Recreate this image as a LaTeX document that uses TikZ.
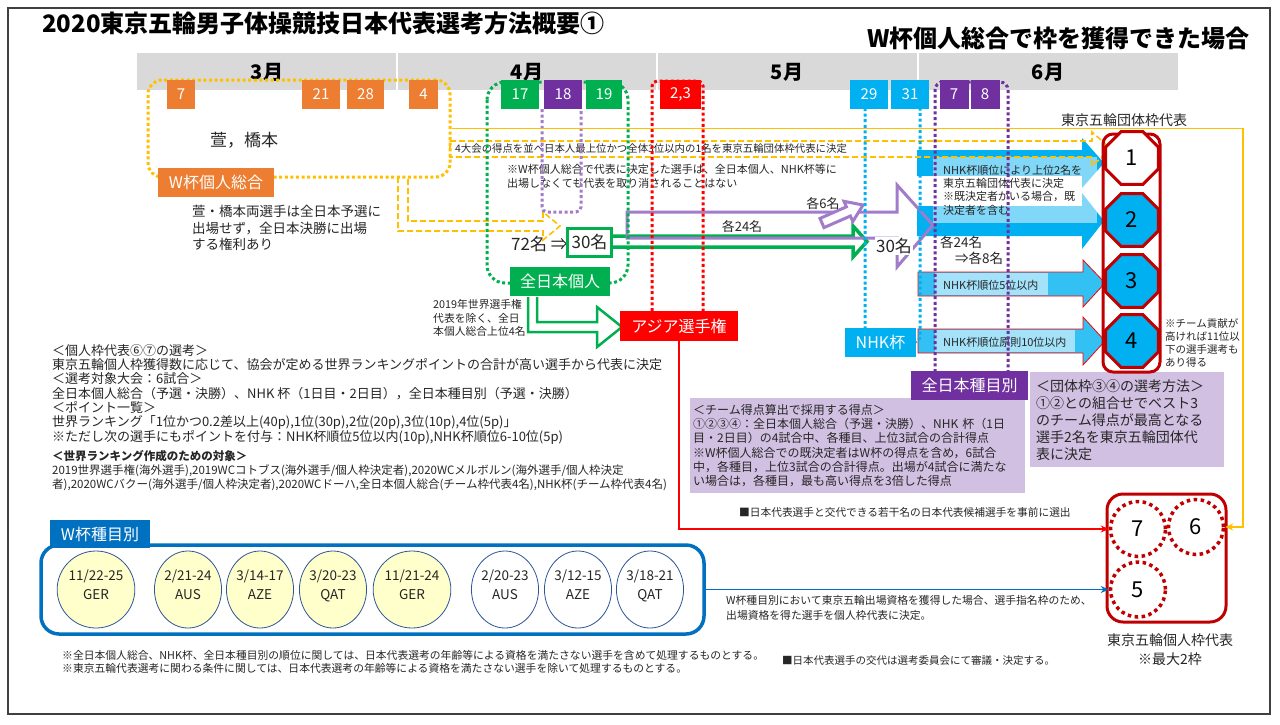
\documentclass[tikz,border=0pt]{standalone}
\usepackage{fontspec}
\setmainfont{Noto Sans CJK JP}
\usetikzlibrary{shapes.geometric,arrows.meta}
\definecolor{orangeC}{HTML}{ED7D31}
\definecolor{goldC}{HTML}{FFC000}
\definecolor{greenC}{HTML}{00B050}
\definecolor{purpleC}{HTML}{7030A0}
\definecolor{lilacC}{HTML}{A07CCB}
\definecolor{redC}{HTML}{FF0000}
\definecolor{cyanC}{HTML}{00B0F0}
\definecolor{darkredC}{HTML}{C00000}
\definecolor{lavC}{HTML}{D2C0E2}
\definecolor{blueC}{HTML}{0070C0}
\definecolor{navyC}{HTML}{2F5597}
\definecolor{barC}{HTML}{D9D9D9}
\definecolor{paleY}{HTML}{FFFFCC}
\definecolor{inkC}{HTML}{262626}
\definecolor{frameC}{HTML}{404040}
\newcommand{\fsz}[1]{\fontsize{#1}{#1}\selectfont}
\newcommand{\fsl}[2]{\fontsize{#1}{#2}\selectfont}
\tikzset{
  datebox/.style={inner sep=0pt, minimum height=29pt, text=white, font=\fsz{15}},
  tagbox/.style={inner sep=0pt, minimum height=29pt, text=white, font=\fsz{16}},
  dots/.style={line width=3pt, dash pattern=on 3pt off 2.6pt},
  note/.style={inner sep=0pt, anchor=west, align=left, text=inkC},
  octa/.style={regular polygon, regular polygon sides=8, minimum size=57pt, draw=darkredC, line width=3pt, inner sep=0pt, font=\fsz{22}},
  slot/.style={circle, draw=darkredC, line width=3.5pt, dash pattern=on 3.5pt off 3.5pt, minimum size=55pt, inner sep=0pt, font=\fsz{22}},
  cup/.style={ellipse, draw=navyC, line width=0.8pt, minimum width=67pt, minimum height=77pt, inner sep=0pt, align=center, font=\fsl{13.5}{19}, text=inkC},
  dashbox/.style={goldC, line width=1.6pt, dash pattern=on 6pt off 3pt},
}
\begin{document}
\begin{tikzpicture}[x=1pt, y=-1pt, >={Stealth[length=8pt,width=7pt]}]
\useasboundingbox (0,0) rectangle (1280,724);
\fill[white] (0,0) rectangle (1280,724);
\draw[line width=2.5pt, frameC] (8,8) rectangle (1270,714);

\node (title) at (42,23) [anchor=west, inner sep=0pt, font=\bfseries\fsz{24}] {2020東京五輪男子体操競技日本代表選考方法概要①};
\node (case) at (1250,38) [anchor=east, inner sep=0pt, font=\bfseries\fsz{24}] {W杯個人総合で枠を獲得できた場合};

\fill[barC] (137,53) rectangle (1178,90);
\foreach \x in {397,657,918} \draw[white, line width=2pt] (\x,53) -- (\x,90);
\foreach \m/\x in {3/267,4/527,5/787,6/1048}
  \node (m\m) at (\x,72) [font=\bfseries\fsz{20}] {\m 月};

\fill[cyanC] (917,150) -- (1082,150) -- (1082,138) -- (1104,163) -- (1082,188) -- (1082,176) -- (917,176) -- cycle;
\fill[cyanC] (917,206) -- (1082,206) -- (1082,193) -- (1104,221) -- (1082,249) -- (1082,236) -- (917,236) -- cycle;
\fill[white, fill opacity=0.5] (933,157) rectangle (1097,223);
\fill[white] (920,176) rectangle (1082,206);
\filldraw[fill=cyanC!80, draw=redC, line width=0.8pt] (918,272) -- (1083,272) -- (1083,260) -- (1105,283) -- (1083,307) -- (1083,296) -- (918,296) -- cycle;
\fill[white, fill opacity=0.55] (935,273) rectangle (1048,295);
\filldraw[fill=cyanC!80, draw=redC, line width=0.8pt] (918,329) -- (1083,329) -- (1083,317) -- (1105,341) -- (1083,365) -- (1083,353) -- (918,353) -- cycle;
\fill[white, fill opacity=0.55] (935,330) rectangle (1075,352);

\filldraw[draw=greenC, fill=white, line width=3.5pt] (610,236) -- (853,236) -- (853,226) -- (867,241.5) -- (853,257) -- (853,247) -- (610,247);
\filldraw[draw=greenC, fill=white, line width=2.5pt] (528,297) -- (528,332) -- (597,332) -- (597,347) -- (622,327) -- (597,307) -- (597,322) -- (537,322) -- (537,297);
\draw[lilacC, line width=3pt] (627,212) -- (897,212) -- (897,185) -- (933,225) -- (897,267) -- (897,238) -- (627,238) -- cycle;
\filldraw[draw=lilacC, fill=white, line width=3pt] (824,227.6) -- (850.4,216) -- (852.8,221.5) -- (863,205) -- (844,201.3) -- (846.4,206.8) -- (820,218.4) -- cycle;

\draw[dashbox] (450,141) -- (1092,141) -- (1092,132) -- (1111,149) -- (1092,166) -- (1092,157) -- (450,157) -- cycle;
\draw[dashbox] (398,177) -- (398,231) -- (543,231) -- (543,240) -- (560,226) -- (543,212) -- (543,221) -- (408,221) -- (408,177);

\node (names) at (244,140) [font=\fsz{17}, text=inkC] {萱，橋本};
\node (exempt) at (192,228) [note, font=\fsl{13.5}{16.5}] {萱・橋本両選手は全日本予選に\\出場せず，全日本決勝に出場\\する権利あり};
\node (keep) at (507,176) [note, font=\fsl{11}{14}] {※W杯個人総合で代表に決定した選手は、全日本個人、NHK杯等に\\出場しなくても代表を取り消されることはない};
\node (four) at (455,149) [note, font=\fsz{10.4}] {4大会の得点を並べ日本人最上位かつ全体3位以内の1名を東京五輪団体枠代表に決定};
\node (top4) at (433,318) [note, font=\fsl{10.8}{13.5}] {2019年世界選手権\\代表を除く、全日\\本個人総合上位4名};
\node (from72) at (511,244) [anchor=west, inner sep=0pt, font=\fsz{17}, text=inkC] {72名 ⇒};
\node (to30) at (589.5,242) [draw=greenC, line width=3pt, fill=white, minimum width=44pt, minimum height=28pt, inner sep=0pt, font=\fsz{17}, text=inkC] {30名};
\node (each24) at (742,227) [font=\fsz{13}, text=inkC] {各24名};
\node (each6) at (823,204) [font=\fsz{13}, text=inkC] {各6名};
\node (sum30) at (894,246) [fill=white, inner sep=1pt, font=\fsz{17}, text=inkC] {30名};
\node (cut8) at (940,250) [note, font=\fsl{13.5}{16}] {各24名\\\hspace{15pt}⇒各8名};
\node (nhk2) at (943,190) [note, font=\fsl{11}{13.3}] {NHK杯順位により上位2名を\\東京五輪団体代表に決定\\※既決定者がいる場合，既\\決定者を含む};
\node (nhk5) at (943,285) [note, font=\fsz{11}] {NHK杯順位5位以内};
\node (nhk10) at (943,342) [note, font=\fsz{11}] {NHK杯順位原則10位以内};
\node (contrib) at (1165,343) [note, font=\fsl{10.5}{13.3}] {※チーム貢献が\\高ければ11位以\\下の選手選考も\\あり得る};

\node (wcup) at (299,128.5) [draw=goldC, dots, rounded corners=14pt, minimum width=302pt, minimum height=97pt] {};
\draw[greenC, dots, rounded corners=18pt] (487,82) rectangle (628,283);
\draw[lilacC, dots, rounded corners=5pt] (542,109) -- (542,212) -- (581,212) -- (581,109);
\draw[redC, dots, rounded corners=5pt] (652,311) -- (652,81) -- (703,81) -- (703,311);
\draw[cyanC, dots, rounded corners=6pt] (865,80) -- (865,342) -- (920,342) -- (920,80);
\draw[purpleC, dots, rounded corners=8pt] (935,372) -- (935,82) -- (1008,82) -- (1008,372);

\foreach \x/\w/\d/\c [count=\i] in {181/28/7/orangeC, 321/38/21/orangeC, 365.5/37/28/orangeC, 423.5/29/4/orangeC, 520/38/17/greenC, 563/38/18/purpleC, 604/36/19/greenC, 680.5/41/{2,3}/redC, 869/38/29/cyanC, 910/38/31/cyanC, 954/29/7/purpleC, 985/29/8/purpleC}
  \node (day\i) at (\x,94.5) [datebox, fill=\c, minimum width=\w pt] {\d};

\node (wtotal) at (216,182.5) [tagbox, fill=orangeC, minimum width=116pt] {W杯個人総合};
\node (alljp) at (560,281.5) [tagbox, fill=greenC, minimum width=100pt] {全日本個人};
\node (asia) at (679,326) [tagbox, fill=redC, minimum width=118pt, minimum height=30pt] {アジア選手権};
\node (nhk) at (880.5,342.5) [tagbox, fill=cyanC, minimum width=71pt] {NHK杯};

\node (teamscore) at (690,398) [anchor=north west, fill=lavC, text width=329pt, minimum height=95pt, inner xsep=3pt, inner ysep=0pt, align=left, font=\fsl{12}{14.3}, text=inkC] {＜チーム得点算出で採用する得点＞\\①②③④：全日本個人総合（予選・決勝）、NHK~杯（1日\\目・2日目）の4試合中、各種目、上位3試合の合計得点\\※W杯個人総合での既決定者はW杯の得点を含め，6試合\\中，各種目，上位3試合の合計得点。出場が4試合に満たな\\い場合は，各種目，最も高い得点を3倍した得点};
\node (teamsel) at (1030,372) [anchor=north west, fill=lavC, text width=182pt, minimum height=95pt, inner xsep=6pt, inner ysep=0pt, align=left, font=\fsl{14}{17}, text=inkC] {＜団体枠③④の選考方法＞\\①②との組合せでベスト3\\のチーム得点が最高となる\\選手2名を東京五輪団体代\\表に決定};
\node (events) at (969.5,385.5) [tagbox, fill=purpleC, minimum width=117pt] {全日本種目別};

\node (indsel) at (52,344) [anchor=north west, inner sep=0pt, align=left, font=\fsl{13}{14.3}, text=inkC] {＜個人枠代表⑥⑦の選考＞\\東京五輪個人枠獲得数に応じて、協会が定める世界ランキングポイントの合計が高い選手から代表に決定\\＜選考対象大会：6試合＞\\全日本個人総合（予選・決勝）、NHK 杯（1日目・2日目），全日本種目別（予選・決勝）\\＜ポイント一覧＞\\世界ランキング「1位かつ0.2差以上(40p),1位(30p),2位(20p),3位(10p),4位(5p)」\\※ただし次の選手にもポイントを付与：NHK杯順位5位以内(10p),NHK杯順位6-10位(5p)};
\node (wrsrc) at (52,450) [anchor=north west, inner sep=0pt, align=left, font=\fsl{11.5}{14}, text=inkC] {{\bfseries ＜世界ランキング作成のための対象＞}\\2019世界選手権(海外選手),2019WCコトブス(海外選手/個人枠決定者),2020WCメルボルン(海外選手/個人枠決定\\者),2020WCバクー(海外選手/個人枠決定者),2020WCドーハ,全日本個人総合(チーム枠代表4名),NHK杯(チーム枠代表4名)};

\node (team) at (1131.5,253) [draw=darkredC, line width=3pt, rounded corners=10pt, minimum width=57pt, minimum height=238pt] {};
\node (o1) at (1132,158) [octa, fill=white] {1};
\node (o2) at (1132,220) [octa, fill=cyanC] {2};
\node (o3) at (1132,281) [octa, fill=cyanC] {3};
\node (o4) at (1132,341) [octa, fill=cyanC] {4};
\node (teamlbl) at (1124,120) [font=\fsz{14}, text=inkC] {東京五輪団体枠代表};

\node (wframe) at (372.5,589.5) [draw=blueC, line width=3.5pt, rounded corners=18pt, minimum width=663pt, minimum height=89pt] {};
\node (wtab) at (100,534) [tagbox, fill=blueC, minimum width=100pt, minimum height=28pt] {W杯種目別};
\foreach \x/\d/\c/\f [count=\i] in {96/{11/22-25}/GER/paleY, 188/{2/21-24}/AUS/paleY, 260/{3/14-17}/AZE/paleY, 333/{3/20-23}/QAT/paleY, 412/{11/21-24}/GER/paleY, 505/{2/20-23}/AUS/white, 578/{3/12-15}/AZE/white, 650/{3/18-21}/QAT/white}
  \node (wc\i) at (\x,589.5) [cup, fill=\f] {\d\\\c\\[-9pt]};

\node (indiv) at (1166.5,558) [draw=darkredC, line width=3pt, rounded corners=16pt, minimum width=119pt, minimum height=128pt] {};
\node (slot7) at (1138,529) [slot] {7};
\node (slot6) at (1196,527) [slot] {6};
\node (slot5) at (1138,589.5) [slot] {5} edge [<-, blueC, line width=1.2pt] (wframe);
\node (indlbl) at (1170,649.5) [font=\fsl{14}{19}, align=center, text=inkC] {東京五輪個人枠代表\\※最大2枠};

\coordinate (ybend) at (1243,128.5);
\draw[->, goldC, line width=1.2pt] (wcup.east) -- (ybend) |- (slot6);
\draw[->, redC, line width=1.2pt] (asia.south) |- (slot7);

\node (spare) at (739,512) [note, font=\fsz{10.7}] {■日本代表選手と交代できる若干名の日本代表候補選手を事前に選出};
\node (wnote) at (726,607.5) [note, font=\fsl{10.8}{15}] {W杯種目別において東京五輪出場資格を獲得した場合、選手指名枠のため、\\出場資格を得た選手を個人枠代表に決定。};
\node (foot1) at (62,661.5) [note, font=\fsl{10.8}{13}] {※全日本個人総合、NHK杯、全日本種目別の順位に関しては、日本代表選考の年齢等による資格を満たさない選手を含めて処理するものとする。\\※東京五輪代表選考に関わる条件に関しては、日本代表選考の年齢等による資格を満たさない選手を除いて処理するものとする。};
\node (foot2) at (782,661) [note, font=\fsz{10.5}] {■日本代表選手の交代は選考委員会にて審議・決定する。};
\end{tikzpicture}
\end{document}
